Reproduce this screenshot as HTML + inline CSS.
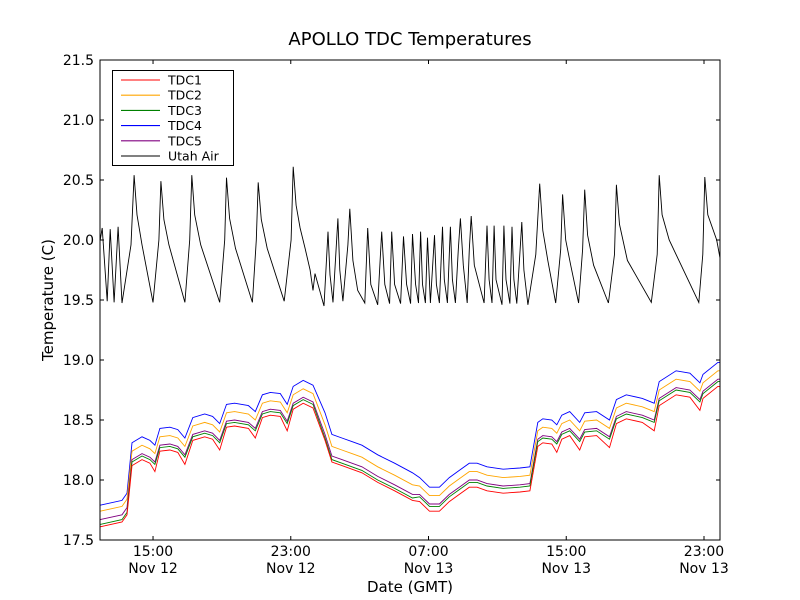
<!DOCTYPE html>
<html><head><meta charset="utf-8"><style>
body{margin:0;background:#fff;}
svg{display:block;font-family:"DejaVu Sans","Liberation Sans",sans-serif;}
</style></head><body>
<svg id="chart" width="800" height="600" viewBox="0 0 800 600" xmlns="http://www.w3.org/2000/svg">
<rect width="800" height="600" fill="#fff"/>
<text x="410" y="45" font-size="18" text-anchor="middle">APOLLO TDC Temperatures</text>
<g id="plot"></g>
<g id="axes"></g>
<text x="410" y="592" font-size="15" text-anchor="middle">Date (GMT)</text>
<text transform="translate(53,300) rotate(-90)" font-size="15" text-anchor="middle">Temperature (C)</text>
<g id="legend"></g>
</svg>
<script>
const yTicks=[17.5,18.0,18.5,19.0,19.5,20.0,20.5,21.0,21.5];
const xTickHours=[15,23,31,39,47];
const xTickTimes=["15:00","23:00","07:00","15:00","23:00"];
const xTickDates=["Nov 12","Nov 12","Nov 13","Nov 13","Nov 13"];
const seriesNames=["TDC1","TDC2","TDC3","TDC4","TDC5","Utah Air"];
const tdcHours=[11.93,13.20,13.49,13.78,14.36,14.82,15.11,15.40,15.98,16.44,16.85,17.31,18.00,18.46,18.87,19.27,19.74,20.54,20.94,21.35,21.81,22.39,22.79,23.14,23.72,24.29,24.99,25.39,25.97,26.55,27.13,28.05,29.03,30.07,30.48,31.06,31.63,32.21,32.79,33.37,33.82,34.40,35.33,36.31,36.89,37.35,37.64,38.16,38.45,38.74,39.20,39.78,40.07,40.76,41.51,41.91,42.49,43.42,44.11,44.40,45.38,46.18,46.76,46.94,47.81,47.93];
const tdc4=[17.79,17.83,17.89,18.31,18.36,18.33,18.29,18.43,18.44,18.42,18.35,18.52,18.55,18.53,18.47,18.63,18.64,18.62,18.57,18.71,18.73,18.72,18.63,18.78,18.83,18.79,18.56,18.38,18.35,18.32,18.29,18.21,18.14,18.06,18.02,17.94,17.94,18.02,18.08,18.14,18.14,18.11,18.09,18.10,18.11,18.48,18.51,18.50,18.46,18.54,18.57,18.48,18.56,18.57,18.50,18.67,18.71,18.68,18.64,18.82,18.91,18.89,18.81,18.88,18.98,18.98];
const tdc2=[17.74,17.78,17.84,18.24,18.29,18.26,18.22,18.36,18.37,18.35,18.28,18.45,18.48,18.46,18.40,18.56,18.57,18.55,18.50,18.64,18.66,18.65,18.56,18.71,18.76,18.72,18.46,18.28,18.25,18.22,18.19,18.11,18.04,17.96,17.95,17.87,17.87,17.95,18.01,18.07,18.07,18.04,18.02,18.03,18.04,18.41,18.44,18.43,18.39,18.47,18.50,18.41,18.49,18.50,18.43,18.60,18.64,18.61,18.57,18.75,18.84,18.82,18.74,18.81,18.91,18.91];
const tdc5=[17.67,17.71,17.77,18.17,18.22,18.19,18.15,18.29,18.30,18.28,18.21,18.38,18.41,18.39,18.33,18.49,18.50,18.48,18.43,18.57,18.59,18.58,18.49,18.64,18.69,18.65,18.38,18.20,18.17,18.14,18.11,18.03,17.96,17.88,17.88,17.80,17.80,17.88,17.94,18.00,18.00,17.97,17.95,17.96,17.97,18.34,18.37,18.36,18.32,18.40,18.43,18.34,18.42,18.43,18.36,18.53,18.57,18.54,18.50,18.68,18.77,18.75,18.67,18.74,18.84,18.84];
const tdc3=[17.63,17.67,17.73,18.15,18.20,18.17,18.13,18.27,18.28,18.26,18.19,18.36,18.39,18.37,18.31,18.47,18.48,18.46,18.41,18.55,18.57,18.56,18.47,18.62,18.67,18.63,18.35,18.17,18.14,18.11,18.08,18.00,17.93,17.85,17.86,17.78,17.78,17.86,17.92,17.98,17.98,17.95,17.93,17.94,17.95,18.32,18.35,18.34,18.30,18.38,18.41,18.32,18.40,18.41,18.34,18.51,18.55,18.52,18.48,18.66,18.75,18.73,18.65,18.72,18.82,18.82];
const tdc1=[17.61,17.65,17.71,18.12,18.17,18.14,18.07,18.24,18.25,18.23,18.13,18.33,18.36,18.34,18.25,18.44,18.45,18.43,18.35,18.52,18.54,18.53,18.41,18.59,18.64,18.60,18.33,18.15,18.12,18.09,18.06,17.98,17.91,17.83,17.82,17.74,17.74,17.82,17.88,17.94,17.94,17.91,17.89,17.90,17.91,18.28,18.31,18.30,18.23,18.34,18.37,18.25,18.36,18.37,18.27,18.47,18.51,18.48,18.41,18.62,18.71,18.69,18.58,18.68,18.78,18.78];
const airHours=[11.93,12.05,12.34,12.51,12.74,12.97,13.20,13.72,13.90,14.07,14.36,15.00,15.34,15.46,15.63,15.92,16.85,17.13,17.25,17.42,17.77,18.87,19.16,19.27,19.45,19.79,20.77,21.00,21.11,21.29,21.63,22.62,23.02,23.14,23.31,23.54,23.83,24.12,24.29,24.41,24.93,25.16,25.28,25.45,25.74,25.85,26.03,26.32,26.43,26.61,26.89,27.30,27.47,27.65,28.05,28.28,28.46,28.74,28.86,29.03,29.38,29.55,29.73,29.96,30.07,30.25,30.42,30.54,30.65,30.82,30.94,31.11,31.35,31.46,31.63,31.81,31.92,32.10,32.27,32.39,32.56,32.73,32.85,33.02,33.25,33.37,33.48,33.66,34.23,34.40,34.52,34.69,34.81,34.92,35.27,35.38,35.50,35.73,35.85,35.96,36.13,36.42,36.54,36.77,37.23,37.46,37.64,37.93,38.39,38.68,38.79,38.97,39.26,39.72,39.95,40.07,40.24,40.59,41.45,41.80,41.91,42.09,42.55,43.94,44.28,44.40,44.57,44.98,46.70,46.93,47.05,47.22,47.74,47.93];
const airTemp=[20.00,20.10,19.49,20.09,19.48,20.11,19.475,19.96,20.54,20.21,19.96,19.48,20.00,20.49,20.17,19.96,19.48,20.00,20.54,20.21,19.96,19.48,20.00,20.52,20.18,19.93,19.48,20.00,20.48,20.17,19.93,19.49,20.00,20.61,20.29,20.10,19.93,19.75,19.58,19.72,19.45,20.07,19.71,19.48,20.18,19.75,19.49,19.96,20.26,19.83,19.58,19.475,20.10,19.63,19.46,20.07,19.63,19.47,20.07,19.63,19.47,20.03,19.63,19.47,20.05,19.63,19.475,20.07,19.63,19.475,20.02,19.475,20.04,19.63,19.475,20.11,19.67,19.475,20.11,19.67,19.475,19.92,20.18,19.79,19.475,19.92,20.20,19.79,19.475,20.12,19.67,19.475,20.12,19.67,19.46,20.12,19.67,19.47,20.11,19.67,19.47,20.15,19.75,19.46,19.88,20.47,20.08,19.83,19.475,19.92,20.38,20.00,19.79,19.475,19.92,20.42,20.04,19.79,19.475,19.88,20.46,20.13,19.83,19.48,19.88,20.54,20.21,20.00,19.48,19.88,20.525,20.21,20.00,19.85];

const X0=100,X1=720,Y0=60,Y1=540,H0=11.92,H1=47.93,V0=17.5,V1=21.5;
const xs=h=>X0+(h-H0)/(H1-H0)*(X1-X0);
const ys=v=>Y1-(v-V0)/(V1-V0)*(Y1-Y0);
const NS="http://www.w3.org/2000/svg";
const plot=document.getElementById('plot'),axes=document.getElementById('axes'),legend=document.getElementById('legend');
function mk(tag,attrs,parent){const e=document.createElementNS(NS,tag);for(const k in attrs)e.setAttribute(k,attrs[k]);parent.appendChild(e);return e;}
const clip=mk('clipPath',{id:'clp'},plot);mk('rect',{x:X0,y:Y0,width:X1-X0,height:Y1-Y0},clip);
const seriesData=[[tdcHours,tdc1,'#ff0000'],[tdcHours,tdc2,'#ffa500'],[tdcHours,tdc3,'#008000'],[tdcHours,tdc4,'#0000ff'],[tdcHours,tdc5,'#800080'],[airHours,airTemp,'#000000']];
const order=[5,3,1,4,2,0];
order.forEach(i=>{const [hx,vy,c]=seriesData[i];
const d=hx.map((h,j)=>(j?'L':'M')+xs(h).toFixed(1)+','+ys(vy[j]).toFixed(1)).join('');
const p=mk('path',{d:d,fill:'none',stroke:c,'stroke-width':0.9,'clip-path':'url(#clp)'},plot);


});
const frame=mk('rect',{x:X0,y:Y0,width:X1-X0,height:Y1-Y0,fill:'none',stroke:'#000','stroke-width':1},axes);


yTicks.forEach(v=>{const y=ys(v);
mk('line',{x1:X0,x2:X0+4,y1:y,y2:y,stroke:'#000'},axes);mk('line',{x1:X1-4,x2:X1,y1:y,y2:y,stroke:'#000'},axes);
const t=mk('text',{x:X0-6,y:y+5,'font-size':14,'text-anchor':'end'},axes);t.textContent=v.toFixed(1);


});
xTickHours.forEach((h,i)=>{const x=xs(h);
mk('line',{x1:x,x2:x,y1:Y1,y2:Y1-4,stroke:'#000'},axes);mk('line',{x1:x,x2:x,y1:Y0,y2:Y0+4,stroke:'#000'},axes);
const t=mk('text',{x:x,y:556,'font-size':14,'text-anchor':'middle'},axes);t.textContent=xTickTimes[i];


const t2=mk('text',{x:x,y:573,'font-size':14,'text-anchor':'middle'},axes);t2.textContent=xTickDates[i];


});
const lb=mk('rect',{x:112.5,y:70.5,width:121,height:95,fill:'#fff',stroke:'#000','stroke-width':1},legend);


seriesNames.forEach((n,i)=>{const y=80+i*15.2;
const g=mk('g',{},legend);


mk('line',{x1:121,x2:160,y1:y,y2:y,stroke:seriesData[i][2],'stroke-width':1.1},g);
const t=mk('text',{x:168,y:y+4.5,'font-size':12.5},g);t.textContent=n;
});
</script>
</body></html>
